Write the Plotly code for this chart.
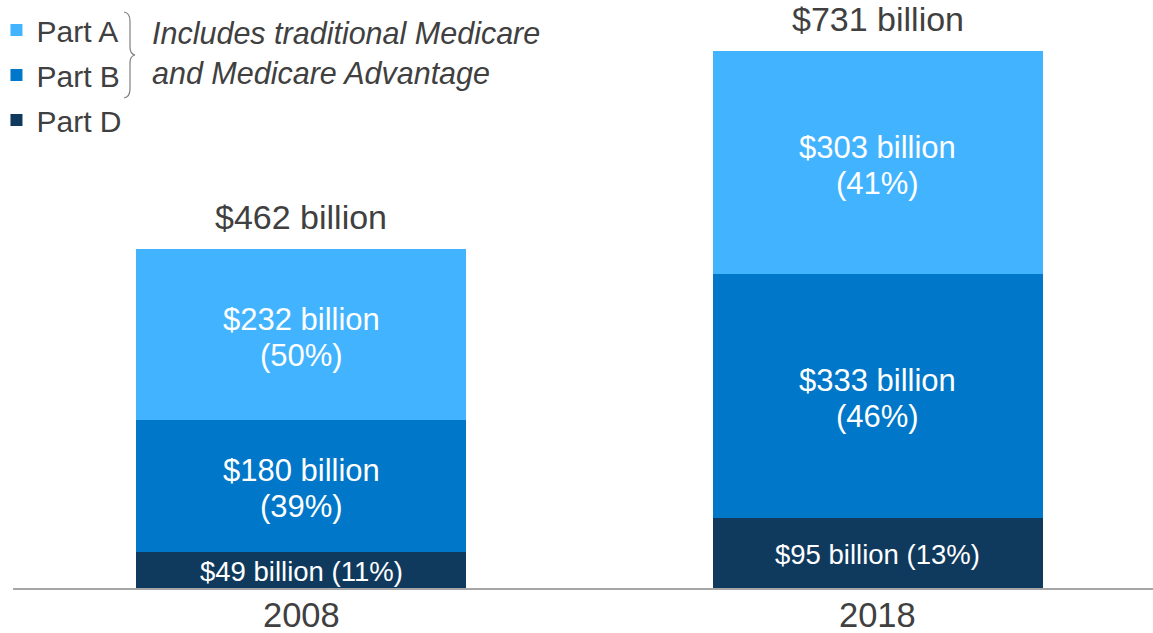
import plotly.graph_objects as go

# ---- data ----
years = ["2008", "2018"]
part_a = [232, 303]
part_b = [180, 333]
part_d = [49, 95]
pct_a = [50, 41]
pct_b = [39, 46]
pct_d = [11, 13]
totals = [462, 731]
series_names = ["Part D", "Part B", "Part A"]
legend_rank = {"Part A": 1, "Part B": 2, "Part D": 3}
note_text = "Includes traditional Medicare<br>and Medicare Advantage"

colors = {"Part A": "#42b4ff", "Part B": "#0077c8", "Part D": "#0f3a5e"}
FONT = "Arial, 'Liberation Sans', sans-serif"
TXT = "#404040"

W, H = 1153, 633
ML, MR, MT, MB = 13, 0, 0, 45
YMAX = 800.4

fig = go.Figure()
series_vals = {"Part D": part_d, "Part B": part_b, "Part A": part_a}
for name in series_names:
    fig.add_trace(go.Bar(
        x=years, y=series_vals[name], name=name,
        marker=dict(color=colors[name], line=dict(width=0)),
        width=0.572, legendgroup=name, legendrank=legend_rank[name], hoverinfo="skip",
    ))

annotations = []
def two_line(xi, yc, l1, l2, size):
    for txt, sh in ((l1, 15), (l2, -21)):
        annotations.append(dict(x=xi, y=yc, text=txt, yshift=sh, showarrow=False,
                                font=dict(family=FONT, size=size, color="white")))

for i, yr in enumerate(years):
    d, b, a = part_d[i], part_b[i], part_a[i]
    annotations.append(dict(x=i, y=d / 2, text=f"${d} billion ({pct_d[i]}%)", yshift=-1,
                            showarrow=False, font=dict(family=FONT, size=27.5, color="white")))
    two_line(i, d + b / 2, f"${b} billion", f"({pct_b[i]}%)", 31)
    two_line(i, d + b + a / 2, f"${a} billion", f"({pct_a[i]}%)", 31)
    annotations.append(dict(x=i, y=totals[i], text=f"${totals[i]} billion", yanchor="bottom",
                            yshift=10.5, showarrow=False, font=dict(family=FONT, size=34, color=TXT)))
    annotations.append(dict(x=i, y=0, text=yr, yanchor="middle", yshift=-27,
                            showarrow=False, borderpad=0,
                            font=dict(family=FONT, size=34.5, color=TXT)))

PW = W - ML - MR
PH = H - MT - MB
def px(x):
    return (x - ML) / PW
def py(y):
    return (H - MB - y) / PH

annotations.append(dict(xref="paper", yref="paper", x=px(150), y=py(53), xanchor="left",
                        yanchor="middle", align="left", text=f"<i>{note_text}</i>",
                        showarrow=False, font=dict(family=FONT, size=30.5, color=TXT)))

pts = [
    ("M", [(124, 12)]),
    ("Q", [(130, 13), (130, 21)]),
    ("L", [(130, 47)]),
    ("Q", [(130, 54), (135, 55)]),
    ("Q", [(130, 56), (130, 63)]),
    ("L", [(130, 89)]),
    ("Q", [(130, 97), (124, 98)]),
]
path = ""
for cmd, ps in pts:
    path += cmd + " ".join(f"{px(x):.5f},{py(y):.5f}" for x, y in ps) + " "

fig.update_layout(
    width=W, height=H,
    margin=dict(l=ML, r=MR, t=MT, b=MB, autoexpand=False),
    barmode="stack",
    bargap=0,
    plot_bgcolor="white", paper_bgcolor="white",
    font=dict(family=FONT, color=TXT),
    xaxis=dict(type="category", range=[-0.5, 1.477], showline=True, linecolor="#a6a6a6",
               linewidth=2, ticks="", showgrid=False, zeroline=False, showticklabels=False),
    yaxis=dict(range=[0, YMAX], visible=False, showgrid=False, zeroline=False),
    showlegend=True,
    legend=dict(x=-0.0145, y=0.993, xanchor="left", yanchor="top", traceorder="grouped",
                tracegroupgap=3, font=dict(family=FONT, size=30, color=TXT),
                bgcolor="rgba(0,0,0,0)", itemclick=False, itemdoubleclick=False),
    annotations=annotations,
    shapes=[dict(type="path", xref="paper", yref="paper", path=path,
                 line=dict(color="#7f7f7f", width=1.2))],
)

fig.write_html("out.html", config={"displayModeBar": False},
               post_script="document.body.style.margin='0';document.body.style.overflow='hidden';")
